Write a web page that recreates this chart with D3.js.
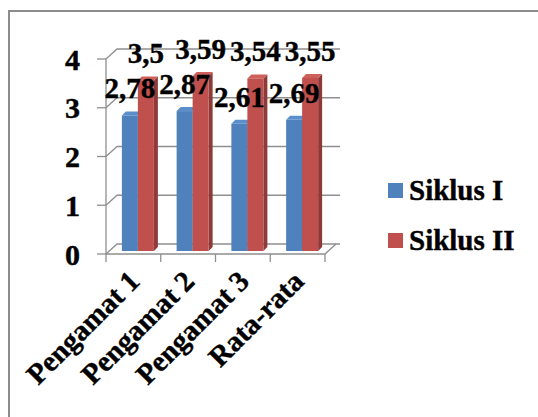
<!DOCTYPE html>
<html>
<head>
<meta charset="utf-8">
<script src="https://cdn.jsdelivr.net/npm/d3@7"></script>
<style>
  body { margin: 0; background: #fff; }
  svg text { font-family: "Liberation Serif", "Times New Roman", serif; font-weight: bold; fill: #000; stroke: #000; stroke-width: 0.4px; }
</style>
</head>
<body>
<div id="chart"></div>
<script>
// chart data
const categories = ["Pengamat 1", "Pengamat 2", "Pengamat 3", "Rata-rata"];
const seriesNames = ["Siklus I", "Siklus II"];
const siklus1 = [2.78, 2.87, 2.61, 2.69];
const siklus2 = [3.5, 3.59, 3.54, 3.55];
const labels1 = ["2,78", "2,87", "2,61", "2,69"];
const labels2 = ["3,5", "3,59", "3,54", "3,55"];
const yTicks = [0, 1, 2, 3, 4];

const colors = {
    front: ["#4f81bd", "#c0504d"],
    top: ["#5b8fcc", "#cf5f5b"],
    side: ["#3a6293", "#8e3a38"]
};

const width = 538, height = 417;
const depthX = 11, depthY = -10;   // floor/wall depth
const barDX = 4, barDY = -4;       // bar depth

const svg = d3.select("#chart").append("svg")
    .attr("width", width)
    .attr("height", height);

// outer frame
svg.append("rect")
    .attr("x", 9).attr("y", 11)
    .attr("width", 700).attr("height", 600)
    .attr("fill", "none")
    .attr("stroke", "#8c8c8c")
    .attr("stroke-width", 2);

const x0 = d3.scaleBand().domain(categories).range([106, 325]);
const yFront = d3.scaleLinear().domain([0, 4]).range([254, 59]);

const clusterW = 32;
const x1 = d3.scaleBand().domain(seriesNames).range([0, clusterW]);

const grid = svg.append("g")
    .attr("fill", "none")
    .attr("stroke", "#8f8f8f")
    .attr("stroke-width", 1.3);

// back wall gridlines with their left wall diagonals
yTicks.forEach(v => {
    const yf = yFront(v);
    grid.append("path")
        .attr("d", `M${x0.range()[0]},${yf} L${x0.range()[0] + depthX},${yf + depthY} L340,${yf + depthY}`);
    grid.append("line")
        .attr("x1", 97).attr("x2", x0.range()[0])
        .attr("y1", yf).attr("y2", yf);
});

// left axis line
grid.append("line")
    .attr("x1", x0.range()[0]).attr("x2", x0.range()[0])
    .attr("y1", yFront(4)).attr("y2", yFront(0));

// floor front edge + right diagonal
grid.append("path")
    .attr("d", `M${x0.range()[0]},${yFront(0)} L${x0.range()[1]},${yFront(0)} L${x0.range()[1] + depthX},${yFront(0) + depthY}`);

// category ticks
const tickXs = categories.map(c => x0(c)).concat([x0.range()[1]]);
tickXs.forEach(tx => {
    grid.append("line")
        .attr("x1", tx).attr("x2", tx)
        .attr("y1", yFront(0)).attr("y2", yFront(0) + 8);
});

// y tick labels
svg.append("g").selectAll("text")
    .data(yTicks)
    .join("text")
    .attr("x", 80)
    .attr("y", d => yFront(d))
    .attr("dy", "0.35em")
    .attr("text-anchor", "end")
    .style("font-size", "30px")
    .text(d => d);

// bars
const barShift = 4.5;
const baseOffset = -3;
const bars = svg.append("g");
const values = [siklus1, siklus2];
const labelTexts = [labels1, labels2];

function drawBar(g, x, w, v, s) {
    const yb = yFront(0) + baseOffset;
    const yt = yFront(v) + baseOffset;
    // side face
    g.append("path")
        .attr("d", `M${x + w},${yt} L${x + w + barDX},${yt + barDY} L${x + w + barDX},${yb + barDY} L${x + w},${yb} Z`)
        .attr("fill", colors.side[s]);
    // top face
    g.append("path")
        .attr("d", `M${x},${yt} L${x + barDX},${yt + barDY} L${x + w + barDX},${yt + barDY} L${x + w},${yt} Z`)
        .attr("fill", colors.top[s]);
    // front face
    g.append("rect")
        .attr("x", x).attr("y", yt)
        .attr("width", w).attr("height", yb - yt)
        .attr("fill", colors.front[s]);
}

categories.forEach((c, i) => {
    const cx = x0(c) + (x0.bandwidth() - clusterW) / 2 + barShift;
    seriesNames.forEach((sn, s) => {
        drawBar(bars, cx + x1(sn), x1.bandwidth(), values[s][i], s);
    });
});

// value labels
const labelG = svg.append("g");
categories.forEach((c, i) => {
    const cx = x0(c) + (x0.bandwidth() - clusterW) / 2 + barShift;
    seriesNames.forEach((sn, s) => {
        labelG.append("text")
            .attr("x", cx + x1(sn) + x1.bandwidth() / 2)
            .attr("y", yFront(values[s][i]) + baseOffset - 17)
            .attr("text-anchor", "middle")
            .style("font-size", "29px")
            .text(labelTexts[s][i]);
    });
});

// category labels (rotated)
svg.append("g").selectAll("text")
    .data(categories)
    .join("text")
    .attr("text-anchor", "end")
    .attr("transform", d => `translate(${x0(d) + x0.bandwidth() / 2 + 8},${283}) rotate(-45)`)
    .style("font-size", "29px")
    .text(d => d);

// legend
const legend = svg.append("g");
const legendY = [183, 233];
seriesNames.forEach((sn, s) => {
    legend.append("rect")
        .attr("x", 388).attr("y", legendY[s])
        .attr("width", 15).attr("height", 15)
        .attr("fill", colors.front[s]);
    legend.append("text")
        .attr("x", 409)
        .attr("y", legendY[s] + 17)
        .style("font-size", "29px")
        .text(sn);
});
</script>
</body>
</html>
